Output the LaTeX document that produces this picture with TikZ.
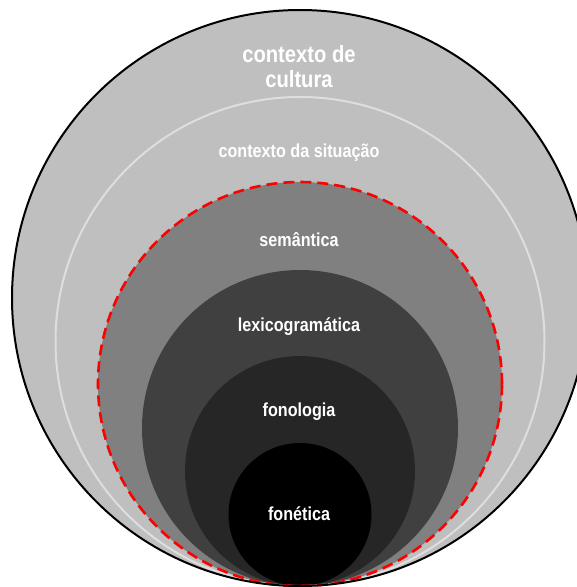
\documentclass[tikz,border=0pt]{standalone}
\usepackage{fontspec}
\newfontfamily\lblfont[FakeStretch=0.86]{Liberation Sans}
\definecolor{cultura}{RGB}{191,191,191}
\definecolor{situline}{RGB}{222,222,222}
\definecolor{semfill}{RGB}{128,128,128}
\definecolor{lexfill}{RGB}{64,64,64}
\definecolor{fonofill}{RGB}{38,38,38}
\definecolor{dashred}{RGB}{255,0,0}
\tikzset{
  lbl/.style={text=white, font=\lblfont\bfseries\fontsize{18.8}{20}\selectfont, inner sep=0pt},
  biglbl/.style={text=white, font=\lblfont\bfseries\fontsize{23.5}{25}\selectfont, align=center, inner sep=0pt}
}
\begin{document}
\begin{tikzpicture}[x=1pt,y=-1pt]
\useasboundingbox (0,0) rectangle (577,587);
\clip (0,0) rectangle (577,587);
% contexto de cultura
\fill[cultura] (300,298) circle[radius=288pt];
% semantica
\fill[semfill] (300,384) circle[radius=202pt];
% lexicogramatica
\fill[lexfill] (300,428) circle[radius=158pt];
% fonologia
\fill[fonofill] (300,471) circle[radius=115pt];
% fonetica
\fill[black] (300,514.5) circle[radius=71.5pt];
% strokes
\draw[situline, line width=2pt] (300,341.5) circle[radius=244.5pt];
\draw[dashred, line width=2.6pt, dash pattern=on 11pt off 6pt] (300,384) circle[radius=202pt];
\draw[black, line width=2pt] (300,298) circle[radius=288pt];
% labels
\node[biglbl] (cult) at (299,67) {contexto de\\cultura};
\node[lbl] (sit) at (299,153) {contexto da situação};
\node[lbl] (sem) at (299,240) {semântica};
\node[lbl] (lex) at (299,327) {lexicogramática};
\node[lbl] (fonol) at (299,412) {fonologia};
\node[lbl] (fonet) at (299,514) {fonética};
\end{tikzpicture}
\end{document}
